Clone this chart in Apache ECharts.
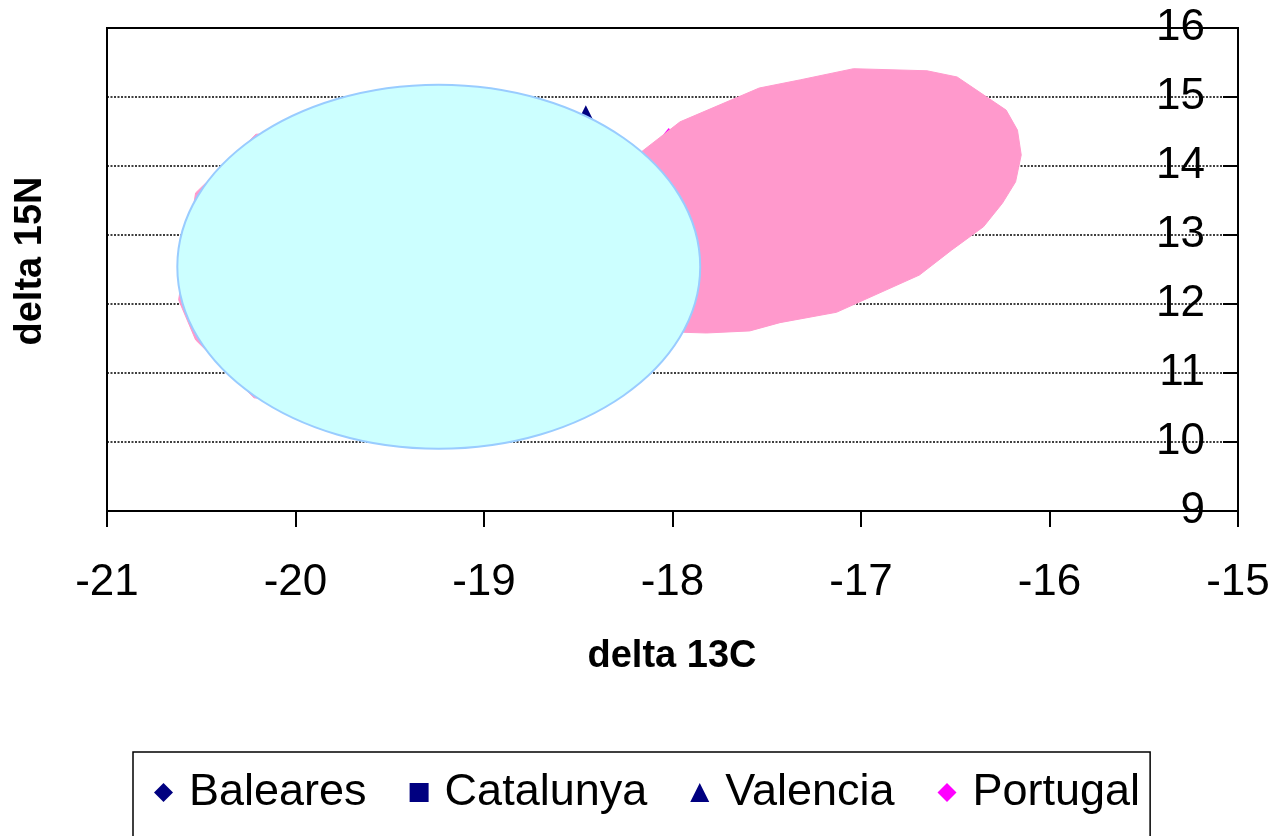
<!DOCTYPE html>
<html>
<head>
<meta charset="utf-8">
<script src="https://cdn.jsdelivr.net/npm/echarts@6/dist/echarts.min.js"></script>
<style>
  html, body { margin: 0; padding: 0; background: #fff; }
  #chart { width: 1276px; height: 836px; }
</style>
</head>
<body>
<div id="chart"></div>
<script>
// Isotope measurements (delta 13C, delta 15N) by region
const balearesPoints = [];
const catalunyaPoints = [];
const valenciaPoints = [[-18.46, 14.77]];
const portugalPoints = [[-18.02, 14.42]];

// Region outlines drawn over the points
const pinkRegion = [
  [-18.29, 13.94], [-17.96, 14.64], [-17.54, 15.13], [-17.32, 15.25],
  [-17.04, 15.41], [-16.65, 15.38], [-16.49, 15.29], [-16.23, 14.81],
  [-16.17, 14.52], [-16.15, 14.16], [-16.18, 13.77], [-16.25, 13.46],
  [-16.35, 13.12], [-16.52, 12.78], [-16.69, 12.42], [-17.13, 11.88],
  [-17.43, 11.73], [-17.59, 11.61], [-17.82, 11.58], [-17.94, 11.59],
  [-18.07, 11.59], [-18.39, 12.78]
];
const pinkRegionBehind = [
  [-20.21, 14.46], [-20.53, 13.61], [-20.62, 12.06], [-20.53, 11.48],
  [-20.22, 10.64], [-19.24, 10.35], [-18.40, 12.06], [-19.24, 14.60]
];
// ellipse: centre x, centre y, radius x, radius y
const cyanEllipse = [-19.24, 12.54, 1.387, 2.638];

const xTicks = { min: -21, max: -15, step: 1 };
const yTicks = { min: 9, max: 16, step: 1 };

const FONT = '"Liberation Sans", Arial, sans-serif';
const NAVY = '#000080';
const MAGENTA = '#FF00FF';

function polygonItem(points, fill) {
  return function (params, api) {
    if (params.dataIndex !== 0) return null;
    return {
      type: 'polygon',
      shape: { points: points.map(p => api.coord(p)) },
      style: { fill: fill, stroke: fill, lineWidth: 1 }
    };
  };
}

const chart = echarts.init(document.getElementById('chart'), null, { renderer: 'canvas' });
chart.setOption({
  animation: false,
  backgroundColor: '#fff',
  textStyle: { fontFamily: FONT },
  grid: {
    left: 107, right: 38, top: 28, bottom: 325,
    show: true, borderColor: '#000', borderWidth: 2, backgroundColor: 'transparent'
  },
  xAxis: {
    type: 'value',
    min: xTicks.min, max: xTicks.max, interval: xTicks.step,
    axisLine: { show: true, onZero: false, lineStyle: { color: '#000', width: 2 } },
    axisTick: { show: true, inside: false, length: 16, lineStyle: { color: '#000', width: 2 } },
    axisLabel: { color: '#000', fontSize: 44, fontFamily: FONT, margin: 50 },
    splitLine: { show: false }
  },
  yAxis: {
    type: 'value',
    position: 'right',
    min: yTicks.min, max: yTicks.max, interval: yTicks.step,
    axisLine: { show: true, onZero: false, lineStyle: { color: '#000', width: 2 } },
    axisTick: { show: true, inside: true, length: 15, lineStyle: { color: '#000', width: 2 } },
    axisLabel: { inside: true, color: '#000', fontSize: 44, fontFamily: FONT, margin: 33 },
    splitLine: { show: true, lineStyle: { color: '#000', width: 1.5, type: [2, 1.5] } }
  },
  legend: {
    left: 133, top: 752,
    orient: 'horizontal',
    itemWidth: 19, itemHeight: 19, itemGap: 43,
    padding: [18, 10, 40, 21],
    borderColor: '#000', borderWidth: 1.5,
    textStyle: { fontSize: 45, fontFamily: FONT, color: '#000', padding: [0, 0, 0, 11] },
    data: ['Baleares', 'Catalunya', 'Valencia', 'Portugal']
  },
  graphic: [
    {
      type: 'text', x: 31, y: 261, rotation: Math.PI / 2,
      style: { text: 'delta 15N', font: 'bold 38px ' + FONT, fill: '#000', align: 'center', verticalAlign: 'middle' }
    },
    {
      type: 'text', x: 672, y: 657,
      style: { text: 'delta 13C', font: 'bold 38px ' + FONT, fill: '#000', align: 'center', verticalAlign: 'middle' }
    }
  ],
  series: [
    { name: 'Baleares', type: 'scatter', symbol: 'diamond', symbolSize: [15, 18], itemStyle: { color: NAVY, opacity: 1 }, data: balearesPoints, z: 2 },
    { name: 'Catalunya', type: 'scatter', symbol: 'rect', symbolSize: 14, itemStyle: { color: NAVY, opacity: 1 }, data: catalunyaPoints, z: 2 },
    { name: 'Valencia', type: 'scatter', symbol: 'triangle', symbolSize: 15, itemStyle: { color: NAVY, opacity: 1 }, data: valenciaPoints, z: 2 },
    { name: 'Portugal', type: 'scatter', symbol: 'diamond', symbolSize: [15, 18], itemStyle: { color: MAGENTA, opacity: 1 }, data: portugalPoints, z: 2 },
    {
      type: 'custom', silent: true, z: 3, clip: true,
      renderItem: polygonItem(pinkRegionBehind, '#FF99CC'),
      data: pinkRegionBehind
    },
    {
      type: 'custom', silent: true, z: 3, clip: true,
      renderItem: polygonItem(pinkRegion, '#FF99CC'),
      data: pinkRegion
    },
    {
      type: 'custom', silent: true, z: 4, clip: true,
      renderItem: function (params, api) {
        const c = api.coord([api.value(0), api.value(1)]);
        const s = api.size([api.value(2), api.value(3)]);
        return {
          type: 'ellipse',
          shape: { cx: c[0], cy: c[1], rx: s[0], ry: s[1] },
          style: { fill: '#CCFFFF', stroke: '#99CCFF', lineWidth: 2 }
        };
      },
      data: [cyanEllipse]
    }
  ]
});
</script>
</body>
</html>
